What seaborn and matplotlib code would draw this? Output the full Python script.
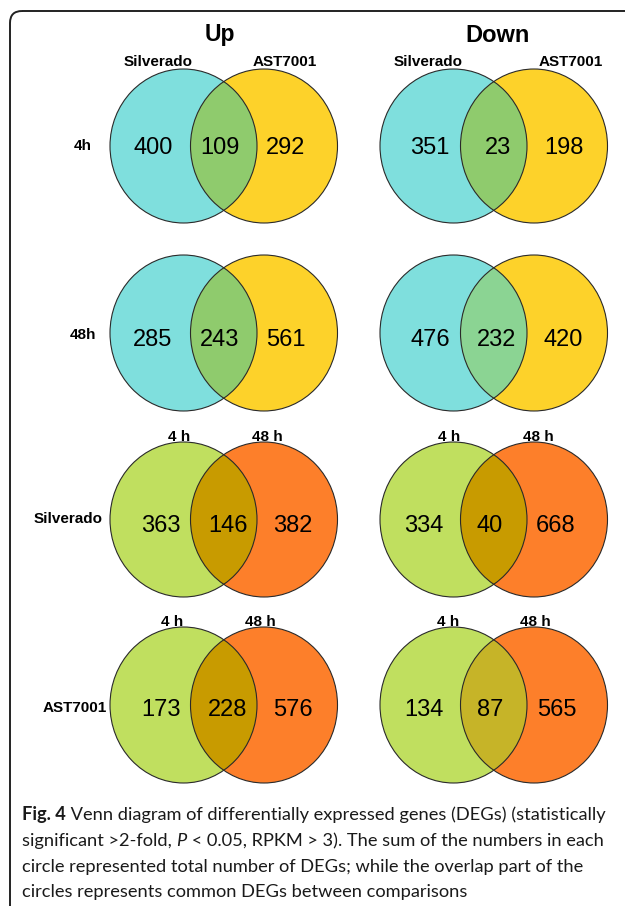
import numpy as np
import pandas as pd
import seaborn as sns
import matplotlib
matplotlib.use("Agg")
import matplotlib.pyplot as plt
from matplotlib.patches import Ellipse, FancyBboxPatch
from matplotlib import font_manager

# ---------------- data ----------------
columns = ["Up", "Down"]
row_labels = ["4h", "48h", "Silverado", "AST7001"]
set_names_a = ["Silverado", "", "4 h", "4 h"]
set_names_b = ["AST7001", "", "48 h", "48 h"]

left_only_up = [400, 285, 363, 173]
shared_up = [109, 243, 146, 228]
right_only_up = [292, 561, 382, 576]

left_only_down = [351, 476, 334, 134]
shared_down = [23, 232, 40, 87]
right_only_down = [198, 420, 668, 565]

caption_lines = [
    [("Fig. 4", "bold", "normal"), (" Venn diagram of differentially expressed genes (DEGs) (statistically", "normal", "normal")],
    [("significant >2-fold, ", "normal", "normal"), ("P", "normal", "italic"), (" < 0.05, RPKM > 3). The sum of the numbers in each", "normal", "normal")],
    [("circle represented total number of DEGs; while the overlap part of the", "normal", "normal")],
    [("circles represents common DEGs between comparisons", "normal", "normal")],
]

rows = []
for c, (lo, sh, ro) in zip(columns, [(left_only_up, shared_up, right_only_up),
                                     (left_only_down, shared_down, right_only_down)]):
    for r, a, s, b in zip(row_labels, lo, sh, ro):
        rows.append(dict(direction=c, comparison=r, left_only=a, shared=s, right_only=b))
df = pd.DataFrame(rows)

# ---------------- style ----------------
sns.set_theme(style="white")
plt.rcParams["font.family"] = ["Liberation Sans", "DejaVu Sans"]
plt.rcParams["text.color"] = "black"

names = {f.name for f in font_manager.fontManager.ttflist}
cap_family = "Liberation Sans Narrow" if "Liberation Sans Narrow" in names else "Lato"

color_a_top, color_b_top = "#7fdfdd", "#fdd22a"
color_a_bot, color_b_bot = "#c0df5f", "#fd7f2a"
overlap_colors = {
    ("Up", 0): "#8fcb6d", ("Up", 1): "#8fcb6d", ("Up", 2): "#c89b00", ("Up", 3): "#c89b00",
    ("Down", 0): "#8fcb6d", ("Down", 1): "#8bd493", ("Down", 2): "#c89b00", ("Down", 3): "#c6b428",
}
edge = "#2a2a2a"

fig = plt.figure(figsize=(6.25, 9.06), dpi=100)
ax = fig.add_axes([0, 0, 1, 1])
ax.set_xlim(0, 625)
ax.set_ylim(906, 0)
ax.axis("off")

# border
ax.add_patch(FancyBboxPatch((10, 11), 700, 920, boxstyle="round,pad=0,rounding_size=12",
                            fill=False, ec="#222222", lw=1.4))

# layout
row_y = [146, 333, 519.5, 705]
ell_h = [154, 156, 155, 156]
ell_w = 147
col_ca = [183.5, 453.5]
col_cb = [264, 534]
num_x = {
    ("Up", 0): (153, 220, 286), ("Up", 1): (153, 220, 286),
    ("Up", 2): (161, 228, 293), ("Up", 3): (161, 228, 293),
    ("Down", 0): (430, 498, 564), ("Down", 1): (430, 497, 563),
    ("Down", 2): (424, 490, 556), ("Down", 3): (424, 490, 557),
}
num_y = [146, 338, 523, 708]
set_label_pos = {
    ("Up", 0): ((158, 62), (285, 62)), ("Down", 0): ((428, 62), (571, 62)),
    ("Up", 2): ((179, 437), (267, 437)), ("Down", 2): ((449, 437), (538, 437)),
    ("Up", 3): ((172, 622), (260, 622)), ("Down", 3): ((448, 622), (535, 622)),
}
row_label_x = [83, 83, 68, 75]
row_label_y = [146, 335, 519, 708]

for ci, col in enumerate(columns):
    sub = df[df.direction == col].reset_index(drop=True)
    for ri in range(len(sub)):
        ca, cb, cy, h = col_ca[ci], col_cb[ci], row_y[ri], ell_h[ri]
        fa, fb = (color_a_top, color_b_top) if ri < 2 else (color_a_bot, color_b_bot)
        ea = Ellipse((ca, cy), ell_w, h, fc=fa, ec="none", zorder=2)
        eb = Ellipse((cb, cy), ell_w, h, fc=fb, ec="none", zorder=2)
        ax.add_patch(ea)
        ax.add_patch(eb)
        clipper = Ellipse((cb, cy), ell_w, h, fc="none", ec="none", transform=ax.transData)
        ax.add_patch(clipper)
        eo = Ellipse((ca, cy), ell_w, h, fc=overlap_colors[(col, ri)], ec="none", zorder=3)
        ax.add_patch(eo)
        eo.set_clip_path(clipper)
        for cx in (ca, cb):
            ax.add_patch(Ellipse((cx, cy), ell_w, h, fc="none", ec=edge, lw=0.8, zorder=4))
        vals = [sub.loc[ri, "left_only"], sub.loc[ri, "shared"], sub.loc[ri, "right_only"]]
        for x, v in zip(num_x[(col, ri)], vals):
            ax.text(x, num_y[ri] + 8.5, f"{v}", ha="center", va="baseline",
                    fontsize=17, color="black", zorder=5)
        if (col, ri) in set_label_pos:
            (xa, ya), (xb, yb) = set_label_pos[(col, ri)]
            ax.text(xa, ya, set_names_a[ri], ha="center", va="center", fontsize=11,
                    fontweight="bold", zorder=6)
            ax.text(xb, yb, set_names_b[ri], ha="center", va="center", fontsize=11,
                    fontweight="bold", zorder=6)

# column headers
ax.text(220, 35, columns[0], ha="center", va="center", fontsize=16.5, fontweight="bold")
ax.text(498, 35, columns[1], ha="center", va="center", fontsize=17, fontweight="bold")

# row labels
for x, y, lab in zip(row_label_x, row_label_y, row_labels):
    ax.text(x, y, lab, ha="center", va="center", fontsize=11, fontweight="bold")

# caption
cap_baselines = [820, 846, 872, 897]
def draw_caption(size):
    arts = []
    for yb, parts in zip(cap_baselines, caption_lines):
        prev = None
        for txt, w, st in parts:
            if prev is None:
                t = ax.text(22, yb, txt, ha="left", va="baseline", fontsize=size,
                            fontweight=w, fontstyle=st, family=[cap_family, "DejaVu Sans"],
                            color="#1a1a1a")
            else:
                t = ax.annotate(txt, xy=(1, 0), xycoords=prev, ha="left", va="bottom",
                                fontsize=size, fontweight=w, fontstyle=st,
                                family=[cap_family, "DejaVu Sans"], color="#1a1a1a")
            arts.append(t)
            prev = t
    return arts

size0 = 14
cap_artists = draw_caption(size0)
fig.canvas.draw()
r = fig.canvas.get_renderer()
first_line = cap_artists[:2]
x0 = first_line[0].get_window_extent(r).x0
x1 = first_line[-1].get_window_extent(r).x1
scale = 585.0 / (x1 - x0)
for a in cap_artists:
    a.set_fontsize(size0 * scale)

fig.savefig("out.png", dpi=100)
